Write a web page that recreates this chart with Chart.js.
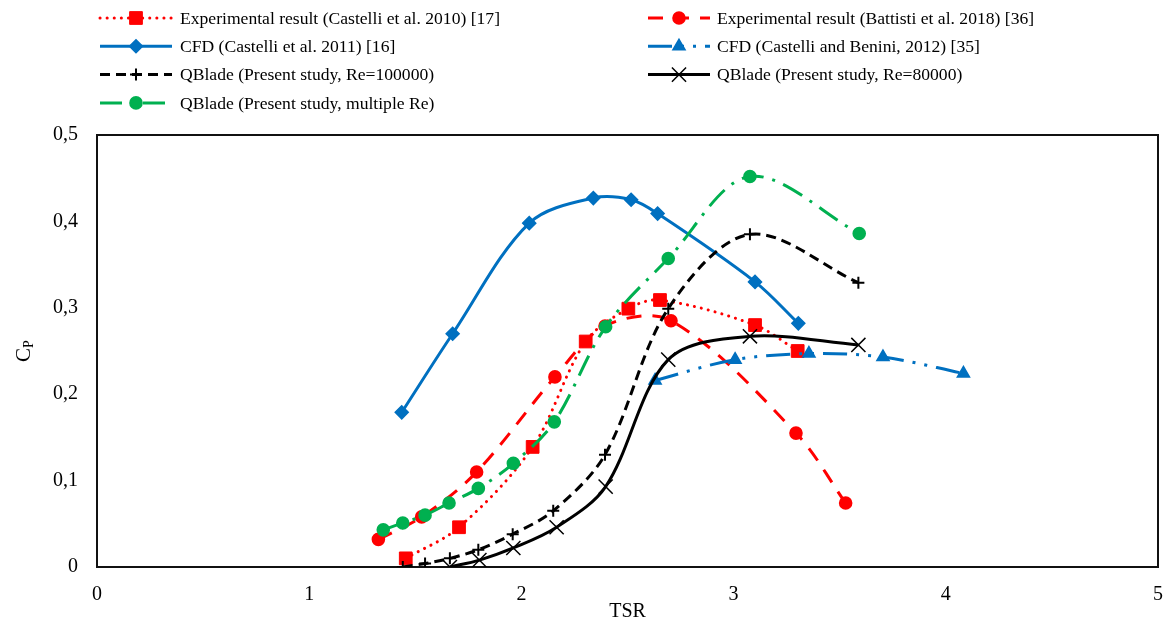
<!DOCTYPE html>
<html><head><meta charset="utf-8">
<script src="https://cdn.jsdelivr.net/npm/chart.js@4.4.0/dist/chart.umd.min.js"></script>
<style>html,body{margin:0;padding:0;background:#fff;}canvas{display:block;}</style>
</head><body>
<canvas id="c" width="1172" height="624"></canvas>
<script>
// ---------- data ----------
const seriesNames = [
  'Experimental result (Castelli et al. 2010) [17]',
  'Experimental result (Battisti et al. 2018) [36]',
  'CFD (Castelli et al. 2011) [16]',
  'CFD (Castelli and Benini, 2012) [35]',
  'QBlade (Present study, Re=100000)',
  'QBlade (Present study, Re=80000)',
  'QBlade (Present study, multiple Re)'
];
const castelli2010TSR = [1.455, 1.706, 2.053, 2.303, 2.504, 2.653, 3.101, 3.302];
const castelli2010CP  = [0.010, 0.046, 0.139, 0.261, 0.299, 0.309, 0.280, 0.250];
const battistiTSR = [1.326, 1.530, 1.789, 2.158, 2.394, 2.705, 3.294, 3.528];
const battistiCP  = [0.032, 0.058, 0.110, 0.220, 0.279, 0.285, 0.155, 0.074];
const cfd2011TSR = [1.436, 1.676, 2.037, 2.339, 2.517, 2.642, 3.101, 3.305];
const cfd2011CP  = [0.179, 0.270, 0.398, 0.427, 0.425, 0.409, 0.330, 0.282];
const cfd2012TSR = [2.630, 3.007, 3.355, 3.704, 4.083];
const cfd2012CP  = [0.216, 0.240, 0.247, 0.243, 0.224];
const qb100kTSR = [1.441, 1.546, 1.663, 1.797, 1.959, 2.150, 2.394, 2.692, 3.077, 3.588];
const qb100kCP  = [0.000, 0.004, 0.010, 0.020, 0.038, 0.065, 0.130, 0.299, 0.385, 0.329];
const qb80kTSR = [1.663, 1.802, 1.962, 2.166, 2.397, 2.692, 3.077, 3.588];
const qb80kCP  = [0.000, 0.008, 0.022, 0.046, 0.093, 0.240, 0.267, 0.257];
const qbMultiTSR = [1.349, 1.441, 1.546, 1.659, 1.797, 1.962, 2.155, 2.397, 2.692, 3.077, 3.592];
const qbMultiCP  = [0.043, 0.051, 0.060, 0.074, 0.091, 0.120, 0.168, 0.278, 0.357, 0.452, 0.386];
const xTickLabels = ['0', '1', '2', '3', '4', '5'];
const yTickLabels = ['0', '0,1', '0,2', '0,3', '0,4', '0,5'];
const xTitle = 'TSR';
const yTitleMain = 'C';
const yTitleSub = 'P';

// ---------- styling ----------
const FONT = "'Liberation Serif','Times New Roman',serif";
const RED = '#FF0000', BLUE = '#0070C0', BLACK = '#000000', GREEN = '#00B050';
function pts(xs, ys) { return xs.map((x, i) => ({ x: x, y: ys[i] })); }
function mk(i, xs, ys, color, dash, cap, pstyle, prad, pbw) {
  return {
    label: seriesNames[i], data: pts(xs, ys), showLine: true, tension: 0.33,
    borderColor: color, backgroundColor: color, borderWidth: 3, borderDash: dash, borderCapStyle: cap,
    pointStyle: pstyle, pointRadius: prad, pointHoverRadius: prad, pointBorderWidth: pbw,
    pointBackgroundColor: color, pointBorderColor: color, order: 10 - i
  };
}
const datasets = [
  mk(0, castelli2010TSR, castelli2010CP, RED, [0.1, 7], 'round', 'rect', 9, 1),
  mk(1, battistiTSR, battistiCP, RED, [15, 11], 'butt', 'circle', 5.8, 2),
  mk(2, cfd2011TSR, cfd2011CP, BLUE, [], 'butt', 'rectRot', 6.5, 1.5),
  mk(3, cfd2012TSR, cfd2012CP, BLUE, [24, 9, 3, 9, 3, 9], 'butt', 'triangle', 7, 1.5),
  mk(4, qb100kTSR, qb100kCP, BLACK, [10, 6], 'butt', 'cross', 6, 2),
  mk(5, qb80kTSR, qb80kCP, BLACK, [], 'butt', 'crossRot', 10, 1.5),
  mk(6, qbMultiTSR, qbMultiCP, GREEN, [22, 9, 3, 9], 'butt', 'circle', 5.8, 2)
];

const legendLayout = { sample: [[100, 172], [648, 710]], text: [180, 717], y0: 18, step: 28.3, size: 17.6 };

const framePlugin = {
  id: 'frame',
  beforeDatasetsDraw(chart) {
    const a = chart.chartArea, c = chart.ctx;
    c.save(); c.strokeStyle = '#111'; c.lineWidth = 2;
    c.strokeRect(a.left, a.top, a.right - a.left, a.bottom - a.top);
    c.restore();
  }
};
const legendPlugin = {
  id: 'excelLegend',
  afterDraw(chart) {
    const c = chart.ctx, L = legendLayout;
    const dp = Chart.helpers && Chart.helpers.drawPoint;
    chart.data.datasets.forEach((ds, i) => {
      const col = i % 2, row = Math.floor(i / 2);
      const x0 = L.sample[col][0], x1 = L.sample[col][1], y = L.y0 + row * L.step;
      c.save();
      c.strokeStyle = ds.borderColor; c.lineWidth = ds.borderWidth;
      c.setLineDash(ds.borderDash || []); c.lineCap = ds.borderCapStyle || 'butt';
      c.beginPath(); c.moveTo(x0, y); c.lineTo(x1, y); c.stroke();
      c.setLineDash([]); c.lineCap = 'butt';
      c.fillStyle = ds.pointBackgroundColor; c.strokeStyle = ds.pointBorderColor; c.lineWidth = ds.pointBorderWidth;
      if (dp) dp(c, { pointStyle: ds.pointStyle, radius: ds.pointRadius, borderWidth: ds.pointBorderWidth, rotation: 0 }, (x0 + x1) / 2, y);
      c.fillStyle = '#000'; c.font = L.size + 'px ' + FONT; c.textBaseline = 'middle'; c.textAlign = 'left';
      c.fillText(ds.label, L.text[col], y + 1);
      c.restore();
    });
  }
};
const yTitlePlugin = {
  id: 'yTitle',
  afterDraw(chart) {
    const c = chart.ctx, a = chart.chartArea;
    c.save();
    c.translate(24, (a.top + a.bottom) / 2);
    c.rotate(-Math.PI / 2);
    c.fillStyle = '#000'; c.textBaseline = 'middle'; c.textAlign = 'left';
    c.font = '21px ' + FONT;
    const wC = c.measureText(yTitleMain).width;
    c.font = '14px ' + FONT;
    const wP = c.measureText(yTitleSub).width;
    const start = -(wC + wP) / 2;
    c.font = '21px ' + FONT;
    c.fillText(yTitleMain, start, 0);
    c.font = '14px ' + FONT;
    c.fillText(yTitleSub, start + wC, 5);
    c.restore();
  }
};

new Chart(document.getElementById('c'), {
  type: 'scatter',
  data: { datasets: datasets },
  options: {
    responsive: false, animation: false,
    layout: { padding: { left: 0, right: 14, top: 135, bottom: 0 } },
    plugins: { legend: { display: false }, tooltip: { enabled: false } },
    scales: {
      x: {
        type: 'linear', min: 0, max: 5,
        grid: { display: false, drawTicks: false }, border: { display: false },
        ticks: { stepSize: 1, padding: 16, color: '#000', font: { family: FONT, size: 20 }, maxRotation: 0, autoSkip: false,
          callback: (v, i) => xTickLabels[i] },
        title: { display: true, text: xTitle, color: '#000', font: { family: FONT, size: 20 }, padding: { top: 0, bottom: 0 } },
        afterFit: s => { s.height = 57; s.paddingLeft = 0; s.paddingRight = 0; }
      },
      y: {
        type: 'linear', min: 0, max: 0.5,
        grid: { display: false, drawTicks: false }, border: { display: false },
        ticks: { stepSize: 0.1, padding: 19, color: '#000', font: { family: FONT, size: 20 },
          callback: (v, i) => yTickLabels[i] },
        afterFit: s => { s.width = 97; s.paddingTop = 0; s.paddingBottom = 0; }
      }
    }
  },
  plugins: [framePlugin, legendPlugin, yTitlePlugin]
});
</script>
</body></html>
